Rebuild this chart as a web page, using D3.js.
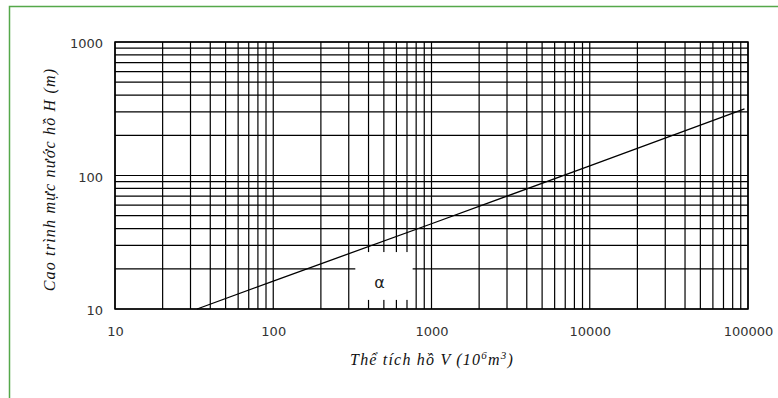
<!DOCTYPE html>
<html>
<head>
<meta charset="utf-8">
<script src="https://cdn.jsdelivr.net/npm/d3@7"></script>
<style>
  html, body { margin: 0; padding: 0; background: #fff; }
  .tick-label { font-family: "DejaVu Sans", Verdana, sans-serif; font-size: 13px; fill: #333; }
  .axis-title { font-family: "Liberation Serif", "Times New Roman", serif; font-style: italic; font-size: 16px; letter-spacing: 1.2px; fill: #111; }
  .grid-line { stroke: #000; stroke-width: 1.2; shape-rendering: auto; }
</style>
</head>
<body>
<svg id="chart" width="778" height="398"></svg>
<script>
// values
const volumes = [33, 100, 1000, 10000, 95000];      // V (10^6 m3)
const heights = [10, 16.2, 43.5, 118, 315];         // H (m)
const xLabels = [10, 100, 1000, 10000, 100000];
const yLabels = [10, 100, 1000];
const xTitle = "Thể tích hồ V (10";
const yTitle = "Cao trình mực nước hồ H (m)";
const alphaLabel = "α";
const alphaBox = { v0: 330, v1: 760, h0: 11.7, h1: 26.7, v: 470, h: 15.9 };

const svg = d3.select("#chart");
const margin = { top: 42, right: 30, bottom: 89, left: 115 };
const W = 778, H = 398;

// green frame around the chart object
svg.append("rect")
  .attr("x", 9.5).attr("y", 6.5)
  .attr("width", W + 20).attr("height", H + 20)
  .attr("fill", "none")
  .attr("stroke", "#55a84a")
  .attr("stroke-width", 1.5);

const x = d3.scaleLog().domain([10, 100000]).range([margin.left, W - margin.right]);
const y = d3.scaleLog().domain([10, 1000]).range([H - margin.bottom, margin.top]);

const g = svg.append("g");

// vertical grid
g.selectAll(".vgrid")
  .data(x.ticks())
  .join("line")
  .attr("class", "grid-line")
  .attr("x1", d => x(d)).attr("x2", d => x(d))
  .attr("y1", y.range()[0]).attr("y2", y.range()[1]);

// horizontal grid
g.selectAll(".hgrid")
  .data(y.ticks())
  .join("line")
  .attr("class", "grid-line")
  .attr("x1", x.range()[0]).attr("x2", x.range()[1])
  .attr("y1", d => y(d)).attr("y2", d => y(d));

// white box behind the alpha label
g.append("rect")
  .attr("x", x(alphaBox.v0))
  .attr("y", y(alphaBox.h1))
  .attr("width", x(alphaBox.v1) - x(alphaBox.v0))
  .attr("height", y(alphaBox.h0) - y(alphaBox.h1))
  .attr("fill", "#fff");

g.append("text")
  .attr("x", x(alphaBox.v))
  .attr("y", y(alphaBox.h))
  .attr("dy", "0.35em")
  .attr("text-anchor", "middle")
  .attr("font-family", "DejaVu Sans, sans-serif")
  .attr("font-size", 16)
  .attr("fill", "#222")
  .text(alphaLabel);

// plot border
g.append("rect")
  .attr("x", x.range()[0]).attr("y", y.range()[1])
  .attr("width", x.range()[1] - x.range()[0])
  .attr("height", y.range()[0] - y.range()[1])
  .attr("fill", "none")
  .attr("stroke", "#000")
  .attr("stroke-width", 1.5);

// curve H-V
const line = d3.line()
  .x(d => x(d[0]))
  .y(d => y(d[1]));

g.append("path")
  .datum(volumes.map((v, i) => [v, heights[i]]))
  .attr("fill", "none")
  .attr("stroke", "#000")
  .attr("stroke-width", 1.3)
  .attr("d", line);

// axes labels
svg.append("g")
  .attr("transform", `translate(0,${y.range()[0] + 10})`)
  .call(d3.axisBottom(x).tickValues(xLabels).tickSize(0).tickPadding(8).tickFormat(d3.format("d")))
  .call(a => a.select(".domain").remove())
  .call(a => a.selectAll("text").attr("class", "tick-label").attr("font-family", null).attr("font-size", null).attr("fill", null));

svg.append("g")
  .attr("transform", `translate(${x.range()[0] - 12},0)`)
  .call(d3.axisLeft(y).tickValues(yLabels).tickSize(0).tickPadding(0).tickFormat(d3.format("d")))
  .call(a => a.select(".domain").remove())
  .call(a => a.selectAll("text").attr("class", "tick-label").attr("font-family", null).attr("font-size", null).attr("fill", null).attr("dy", "0.45em"));

// axis titles
const xt = svg.append("text")
  .attr("class", "axis-title")
  .attr("x", 432)
  .attr("y", 365)
  .attr("text-anchor", "middle");
xt.append("tspan").text(xTitle);
xt.append("tspan").attr("dy", -6).attr("font-size", 11).text("6");
xt.append("tspan").attr("dy", 6).text("m");
xt.append("tspan").attr("dy", -6).attr("font-size", 11).text("3");
xt.append("tspan").attr("dy", 6).text(")");

svg.append("text")
  .attr("class", "axis-title")
  .attr("transform", `translate(55,${(y.range()[0] + y.range()[1]) / 2 + 4}) rotate(-90)`)
  .attr("text-anchor", "middle")
  .text(yTitle);
</script>
</body>
</html>
